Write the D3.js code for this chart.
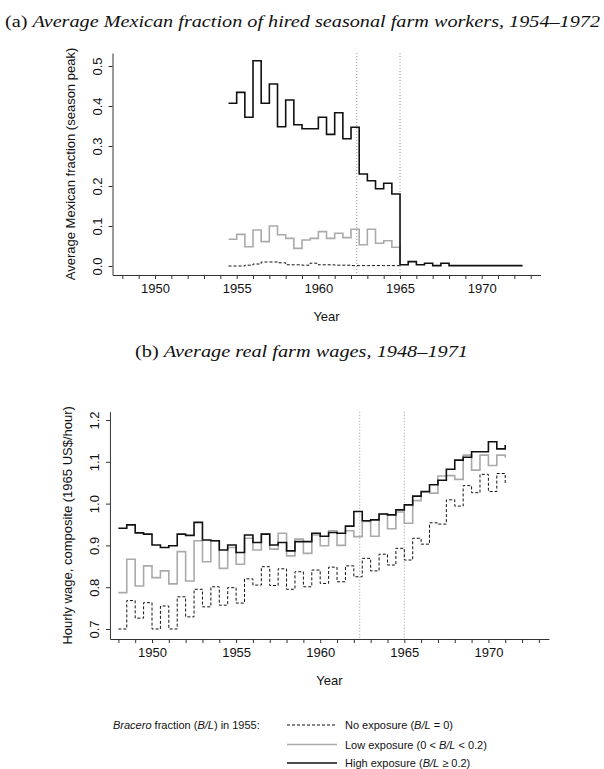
<!DOCTYPE html>
<html><head><meta charset="utf-8">
<script src="https://cdn.jsdelivr.net/npm/d3@7/dist/d3.min.js"></script>
<style>body{margin:0;background:#fff} svg{display:block}</style>
</head><body>
<svg id="chart" width="604" height="769"></svg>
<script>
// ---------- DATA ----------
// Panel (a): half-year steps starting 1954.5
const topStartYear = 1954.5;
const topHigh = [0.407,0.434,0.372,0.513,0.407,0.455,0.348,0.415,0.353,0.343,0.343,0.372,0.329,0.383,0.318,0.347,
  0.230,0.213,0.193,0.207,0.180,0.003,0.011,0.003,0.007,0.001,0.007,0.001,0.001,0.001,0.001,0.001,0.001,0.001,0.001,0.001,0.001];
const topLow = [0.067,0.079,0.048,0.090,0.061,0.100,0.078,0.069,0.044,0.065,0.069,0.086,0.069,0.082,0.071,0.092,
  0.053,0.092,0.057,0.063,0.047,0.000];
const topNone = [0.000,0.000,0.002,0.005,0.010,0.010,0.008,0.003,0.003,0.002,0.007,0.003,0.003,0.002,0.002,0.001,
  0.001,0.001,0.001,0.001,0.001,0.000];
// Panel (b): half-year steps starting 1948.0
const botStartYear = 1948.0;
const botHigh = [0.941,0.949,0.930,0.927,0.901,0.895,0.899,0.927,0.924,0.955,0.913,0.911,0.889,0.901,0.883,0.925,
  0.907,0.927,0.901,0.907,0.887,0.909,0.909,0.929,0.922,0.931,0.929,0.946,0.981,0.959,0.961,0.975,0.973,0.985,
  0.997,1.018,1.029,1.045,1.056,1.082,1.104,1.111,1.124,1.124,1.148,1.131,1.140];
const botLow = [0.787,0.867,0.803,0.851,0.823,0.839,0.808,0.885,0.815,0.911,0.861,0.911,0.845,0.895,0.855,0.917,
  0.889,0.927,0.891,0.929,0.875,0.915,0.881,0.925,0.899,0.935,0.900,0.935,0.921,0.957,0.922,0.975,0.940,0.980,
  0.953,1.007,1.027,1.025,1.066,1.067,1.058,1.116,1.080,1.116,1.091,1.116,1.110];
const botNone = [0.700,0.768,0.726,0.763,0.700,0.755,0.700,0.777,0.729,0.795,0.753,0.801,0.757,0.799,0.762,0.820,
  0.805,0.849,0.804,0.844,0.795,0.837,0.801,0.841,0.809,0.848,0.813,0.851,0.825,0.869,0.839,0.879,0.853,0.893,
  0.865,0.917,0.903,0.954,0.951,1.009,0.994,1.043,1.026,1.070,1.029,1.072,1.045];
const policyYears = [1962.35, 1965];
const topYTicks = [0, 0.1, 0.2, 0.3, 0.4, 0.5];
const botYTicks = [0.7, 0.8, 0.9, 1.0, 1.1, 1.2];
const xTickYears = d3.range(1948, 1974);
const xLabelYears = [1950, 1955, 1960, 1965, 1970];
const legendLabels = [
  ["No exposure (", "B/L", " = 0)"],
  ["Low exposure (0 < ", "B/L", " < 0.2)"],
  ["High exposure (", "B/L", " \u2265 0.2)"]
];

// ---------- DRAW ----------
const svg = d3.select("#chart");
const SANS = "'Liberation Sans', Arial, Helvetica, sans-serif";
const SERIF = "'Liberation Serif', 'Times New Roman', serif";
const styles = [
  {stroke: "#111", width: 1, dash: "3,2"},
  {stroke: "#aaaaaa", width: 1.6, dash: null},
  {stroke: "#111", width: 1.6, dash: null}
];

function toPts(start, vals) { return vals.map((v, i) => ({yr: start + i * 0.5, v})); }

function panel(cfg) {
  const x = d3.scaleLinear().domain(cfg.xDom).range(cfg.xRange);
  const y = d3.scaleLinear().domain(cfg.yDom).range(cfg.yRange);
  const g = svg.append("g");
  const xa = g.append("g").attr("transform", `translate(0,${cfg.yRange[0]})`)
    .call(d3.axisBottom(x).tickValues(xTickYears).tickSize(4).tickSizeOuter(0).tickPadding(5)
      .tickFormat(d => xLabelYears.includes(d) ? String(d) : ""));
  const ya = g.append("g").attr("transform", `translate(${cfg.xRange[0]},0)`)
    .call(d3.axisLeft(y).tickValues(cfg.yTicks).tickSize(4).tickSizeOuter(0).tickFormat(d3.format(".1f")));
  [xa, ya].forEach(a => {
    a.select(".domain").attr("stroke", "#333").attr("stroke-width", 1);
    a.selectAll(".tick line").attr("stroke", "#333");
    a.selectAll("text").attr("font-family", SANS).attr("font-size", 13).attr("fill", "#111");
  });
  ya.selectAll(".tick text").attr("transform", "rotate(-90)").attr("x", 0).attr("y", -11)
    .attr("dy", 0).attr("text-anchor", "middle");
  g.append("text").attr("x", (cfg.xRange[0] + cfg.xRange[1]) / 2).attr("y", cfg.yRange[0] + 46)
    .attr("text-anchor", "middle").attr("font-family", SANS).attr("font-size", 13).attr("fill", "#111").text("Year");
  g.append("text").attr("transform", `translate(${cfg.xRange[0] - 38},${(cfg.yRange[0] + cfg.yRange[1]) / 2}) rotate(-90)`)
    .attr("text-anchor", "middle").attr("font-family", SANS).attr("font-size", 13).attr("fill", "#111").text(cfg.yTitle);
  g.selectAll(".pol").data(policyYears).enter().append("line")
    .attr("x1", d => x(d)).attr("x2", d => x(d)).attr("y1", cfg.yRange[1]).attr("y2", cfg.yRange[0])
    .attr("stroke", "#999").attr("stroke-width", 1).attr("stroke-dasharray", "1,2");
  const line = d3.line().curve(d3.curveStepAfter).x(d => x(d.yr)).y(d => y(d.v));
  cfg.series.forEach((vals, i) => {
    g.append("path").datum(toPts(cfg.start, vals)).attr("d", line).attr("fill", "none")
      .attr("stroke", styles[i].stroke).attr("stroke-width", styles[i].width)
      .attr("stroke-dasharray", styles[i].dash).attr("stroke-linejoin", "miter").attr("stroke-linecap", "butt");
  });
  const t = svg.append("text").attr("x", cfg.titleX).attr("y", cfg.titleY).attr("font-family", SERIF)
    .attr("font-size", 17).attr("fill", "#111").attr("textLength", cfg.titleLen).attr("lengthAdjust", "spacingAndGlyphs");
  t.append("tspan").text(cfg.titleLead);
  t.append("tspan").attr("font-style", "italic").text(cfg.titleRest);
}

const kxT = (481.7 - 155) / 20;
panel({
  xDom: [1947.4, 1973.6], xRange: [155 - 2.6 * kxT, 155 + 23.6 * kxT],
  yDom: [-0.0225, 0.5325], yRange: [275, 53],
  yTicks: topYTicks, start: topStartYear, series: [topNone, topLow, topHigh],
  yTitle: "Average Mexican fraction (season peak)",
  titleX: 5, titleY: 27, titleLen: 595, titleLead: "(a) ",
  titleRest: "Average Mexican fraction of hired seasonal farm workers, 1954\u20131972"
});
const kxB = (488.4 - 152) / 20;
const kyB = (629 - 420) / 0.5;
panel({
  xDom: [1947.5, 1973.6], xRange: [152 - 2.5 * kxB, 152 + 23.6 * kxB],
  yDom: [0.7 - 10 / kyB, 1.2 + 8.3 / kyB], yRange: [639, 411.7],
  yTicks: botYTicks, start: botStartYear, series: [botNone, botLow, botHigh],
  yTitle: "Hourly wage, composite (1965 US$/hour)",
  titleX: 135, titleY: 357, titleLen: 333, titleLead: "(b) ",
  titleRest: "Average real farm wages, 1948\u20131971"
});

// Legend
const lg = svg.append("g").attr("font-family", SANS).attr("font-size", 11).attr("fill", "#111");
const rowY = [725, 744.5, 763];
const head = lg.append("text").attr("x", 113).attr("y", rowY[0] + 4);
head.append("tspan").attr("font-style", "italic").text("Bracero");
head.append("tspan").text(" fraction (");
head.append("tspan").attr("font-style", "italic").text("B/L");
head.append("tspan").text(") in 1955:");
legendLabels.forEach((lab, i) => {
  const s = styles[i];
  lg.append("line").attr("x1", 287).attr("x2", 337).attr("y1", rowY[i]).attr("y2", rowY[i])
    .attr("stroke", s.stroke).attr("stroke-width", s.width).attr("stroke-dasharray", s.dash);
  const t = lg.append("text").attr("x", 345).attr("y", rowY[i] + 4);
  t.append("tspan").text(lab[0]);
  t.append("tspan").attr("font-style", "italic").text(lab[1]);
  t.append("tspan").text(lab[2]);
});
</script>
</body></html>
